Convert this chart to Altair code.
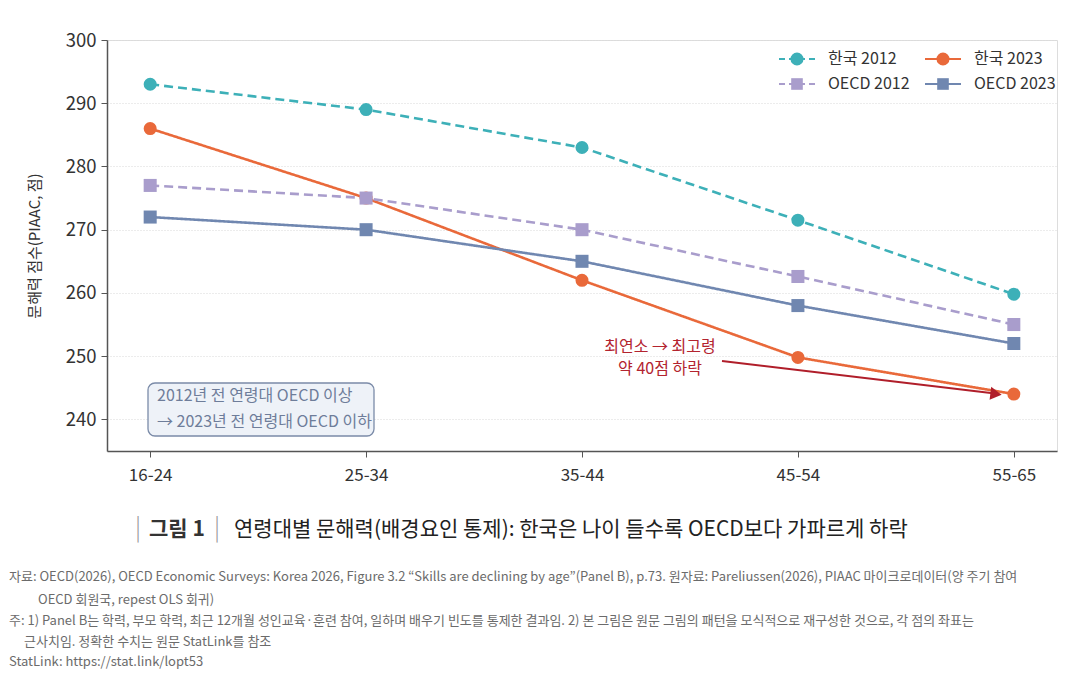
import altair as alt
import pandas as pd

FONT = "Noto Sans CJK KR"

age_groups = ["16-24", "25-34", "35-44", "45-54", "55-65"]
korea_2012 = [293, 289, 283, 271.5, 259.8]
korea_2023 = [286, 275, 262, 249.8, 244]
oecd_2012 = [277, 275, 270, 262.6, 255]
oecd_2023 = [272, 270, 265, 258, 252]

series_names = ["한국 2012", "한국 2023", "OECD 2012", "OECD 2023"]
series_colors = ["#3DB0B8", "#E9693A", "#A99DCC", "#7087B0"]
series_shapes = ["circle", "circle", "square", "square"]
series_sizes = [170, 170, 135, 135]
series_style = ["dash", "solid", "dash", "solid"]

y_ticks = [240, 250, 260, 270, 280, 290, 300]

title_main = "연령대별 문해력(배경요인 통제): 한국은 나이 들수록 OECD보다 가파르게 하락"
box_lines = ["2012년 전 연령대 OECD 이상", "→ 2023년 전 연령대 OECD 이하"]
note_lines = ["최연소 → 최고령", "약 40점 하락"]
footnotes = [
    "자료: OECD(2026), OECD Economic Surveys: Korea 2026, Figure 3.2 “Skills are declining by age”(Panel B), p.73. 원자료: Pareliussen(2026), PIAAC 마이크로데이터(양 주기 참여",
    "OECD 회원국, repest OLS 회귀)",
    "주: 1) Panel B는 학력, 부모 학력, 최근 12개월 성인교육·훈련 참여, 일하며 배우기 빈도를 통제한 결과임. 2) 본 그림은 원문 그림의 패턴을 모식적으로 재구성한 것으로, 각 점의 좌표는",
    "근사치임. 정확한 수치는 원문 StatLink를 참조",
    "StatLink: https://stat.link/lopt53",
]

# long format
rows = []
for name, style, vals in zip(series_names, series_style,
                             [korea_2012, korea_2023, oecd_2012, oecd_2023]):
    for g, v in zip(age_groups, vals):
        rows.append({"연령대": g, "점수": v, "계열": name, "선": style})
df = pd.DataFrame(rows)

x_enc = alt.X("연령대:O", sort=age_groups, title=None,
              scale=alt.Scale(padding=0.2),
              axis=alt.Axis(labelAngle=0, labelFontSize=17, labelPadding=10,
                            labelColor="#333", tickSize=6, tickColor="#555",
                            domainColor="#555", domainWidth=1.5, grid=False,
                            labelFont=FONT))
y_enc = alt.Y("점수:Q", title="문해력 점수(PIAAC, 점)",
              scale=alt.Scale(domain=[235, 300], nice=False, zero=False),
              axis=alt.Axis(values=y_ticks, labelFontSize=18.5, labelColor="#333",
                            tickSize=6, tickColor="#555", domainColor="#555",
                            domainWidth=1.5, labelPadding=5,
                            gridColor="#d8d8d8", gridDash=[1, 2], gridWidth=1,
                            titleFontSize=15, titleFontWeight="normal",
                            titleColor="#333", titlePadding=23,
                            labelFont=FONT, titleFont=FONT))
color_enc = alt.Color("계열:N", scale=alt.Scale(domain=series_names, range=series_colors),
                      legend=None)

lines = alt.Chart(df).mark_line(strokeWidth=2.6).encode(
    x=x_enc, y=y_enc, color=color_enc,
    strokeDash=alt.StrokeDash("선:N", scale=alt.Scale(domain=["dash", "solid"],
                                                       range=[[9, 5], [1, 0]]),
                              legend=None),
    detail="계열:N",
)
points = alt.Chart(df).mark_point(filled=True, opacity=1).encode(
    x=x_enc, y=y_enc, color=color_enc,
    shape=alt.Shape("계열:N", scale=alt.Scale(domain=series_names, range=series_shapes),
                    legend=None),
    size=alt.Size("계열:N", scale=alt.Scale(domain=series_names, range=series_sizes),
                  legend=None),
)

one = pd.DataFrame({"k": [0]})

# legend, top right
legend_layers = []
for i, name in enumerate(series_names):
    col, row = i % 2, i // 2
    x0 = 672 + col * 146
    yy = 19 + row * 25
    dash = [6, 4] if series_style[i] == "dash" else [1, 0]
    legend_layers.append(alt.Chart(one).mark_rule(
        color=series_colors[i], strokeWidth=2.2, strokeDash=dash).encode(
        x=alt.value(x0), x2=alt.value(x0 + 36), y=alt.value(yy)))
    legend_layers.append(alt.Chart(one).mark_point(
        filled=True, opacity=1, shape=series_shapes[i], color=series_colors[i],
        size=series_sizes[i]).encode(x=alt.value(x0 + 18), y=alt.value(yy)))
    legend_layers.append(alt.Chart(one).mark_text(
        text=name, align="left", baseline="middle", fontSize=16, color="#333",
        font=FONT).encode(x=alt.value(x0 + 49), y=alt.value(yy)))

# info box
box = alt.Chart(one).mark_rect(fill="#EEF2F8", stroke="#7B8BA8", strokeWidth=1.3,
                               cornerRadius=7).encode(
    x=alt.value(41), x2=alt.value(267), y=alt.value(343), y2=alt.value(396))
box_text = [alt.Chart(one).mark_text(text=t, align="left", baseline="middle",
                                     fontSize=16, color="#6E7D9A", font=FONT).encode(
    x=alt.value(50), y=alt.value(356 + 26 * j)) for j, t in enumerate(box_lines)]

# drop annotation with arrow
note_text = [alt.Chart(one).mark_text(text=t, align="center", baseline="middle",
                                      fontSize=16, color="#B3242F", font=FONT).encode(
    x=alt.value(553), y=alt.value(307 + 22 * j)) for j, t in enumerate(note_lines)]
arrow = alt.Chart(one).mark_rule(color="#B01E2A", strokeWidth=2).encode(
    x=alt.value(615), y=alt.value(321), x2=alt.value(888), y2=alt.value(353.5))
arrow_head = alt.Chart(one).mark_point(shape="triangle-right", filled=True, opacity=1,
                                       color="#B01E2A", size=170, angle=7).encode(
    x=alt.value(889), y=alt.value(354))

# figure caption below the chart
caption = [
    alt.Chart(one).mark_text(text="|", align="center", baseline="middle", fontSize=24,
                             color="#999999", fontWeight=300, font=FONT).encode(
        x=alt.value(31), y=alt.value(489)),
    alt.Chart(one).mark_text(text="그림 1", align="left", baseline="middle", fontSize=21,
                             color="#333", fontWeight="bold", font=FONT).encode(
        x=alt.value(42), y=alt.value(490)),
    alt.Chart(one).mark_text(text="|", align="center", baseline="middle", fontSize=24,
                             color="#999999", fontWeight=300, font=FONT).encode(
        x=alt.value(110), y=alt.value(489)),
    alt.Chart(one).mark_text(text=title_main, align="left", baseline="middle",
                             fontSize=21, color="#222", font=FONT).encode(
        x=alt.value(127), y=alt.value(490)),
]

note_x = [-98, -69, -98, -83, -98]
note_y = [537, 560, 581, 602, 622]
foot = [alt.Chart(one).mark_text(text=t, align="left", baseline="middle", fontSize=13,
                                 color="#6b6b6b", font=FONT).encode(
    x=alt.value(xx), y=alt.value(yy)) for t, xx, yy in zip(footnotes, note_x, note_y)]

chart = alt.layer(
    lines, points, box, *box_text, arrow, arrow_head, *note_text,
    *legend_layers, *caption, *foot
).properties(
    width=950, height=411,
    autosize=alt.AutoSizeParams(type="none"),
    padding={"left": 99, "top": 32, "right": 15, "bottom": 219},
).configure_view(stroke=None).configure(font=FONT)

chart.save("out.html", embed_options={"renderer": "svg", "actions": False})
